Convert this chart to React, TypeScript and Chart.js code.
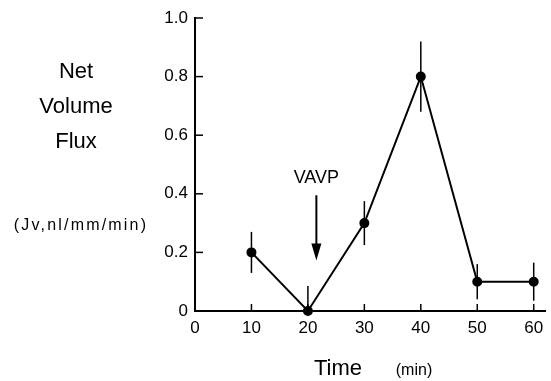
import React, { useEffect, useRef } from "react";
import { Chart, registerables } from "chart.js";

Chart.register(...registerables);

const times = [10, 20, 30, 40, 50, 60];
const flux = [0.2, 0.0, 0.3, 0.8, 0.1, 0.1];
const fluxErr = [0.07, 0.085, 0.075, 0.12, 0.06, 0.065];
const xTicks = [0, 10, 20, 30, 40, 50, 60];
const yTicks = [0, 0.2, 0.4, 0.6, 0.8, 1.0];
const yTitleLines = ["Net", "Volume", "Flux"];
const yUnits = "(Jv,nl/mm/min)";
const xTitle = "Time";
const xUnits = "(min)";
const annotationLabel = "VAVP";
const annotationX = 21.5;
const annotationTextY = 0.455;
const annotationArrowTop = 0.395;
const annotationArrowTip = 0.172;

const FONT = '"Liberation Sans", Arial, Helvetica, sans-serif';

const extrasPlugin = {
  id: "extras",
  afterDatasetsDraw(chart: any) {
    const ctx = chart.ctx;
    const xs = chart.scales.x;
    const ys = chart.scales.y;
    ctx.save();
    ctx.strokeStyle = "#000";
    ctx.lineWidth = 1.5;
    // error bars
    times.forEach((t, i) => {
      const px = xs.getPixelForValue(t);
      const top = ys.getPixelForValue(flux[i] + fluxErr[i]);
      const bot = ys.getPixelForValue(Math.max(0, flux[i] - fluxErr[i]));
      ctx.beginPath();
      ctx.moveTo(px, top);
      ctx.lineTo(px, bot);
      ctx.stroke();
    });
    // inward x ticks
    const base = ys.getPixelForValue(0);
    xTicks.forEach((t) => {
      if (t === 0) return;
      const px = xs.getPixelForValue(t);
      ctx.beginPath();
      ctx.moveTo(px, base);
      ctx.lineTo(px, base - 7);
      ctx.stroke();
    });
    // inward y ticks
    const left = xs.getPixelForValue(0);
    yTicks.forEach((v) => {
      if (v === 0) return;
      const py = ys.getPixelForValue(v);
      ctx.beginPath();
      ctx.moveTo(left, py);
      ctx.lineTo(left + 8, py);
      ctx.stroke();
    });
    ctx.restore();
  },
  afterDraw(chart: any) {
    const ctx = chart.ctx;
    const xs = chart.scales.x;
    const ys = chart.scales.y;
    ctx.save();
    ctx.fillStyle = "#000";
    ctx.strokeStyle = "#000";
    ctx.textAlign = "center";
    ctx.textBaseline = "middle";
    // left title
    ctx.font = `22px ${FONT}`;
    const ly = [72, 107, 142];
    yTitleLines.forEach((s, i) => ctx.fillText(s, 76, ly[i]));
    ctx.font = `16px ${FONT}`;
    (ctx as any).letterSpacing = "2.2px";
    ctx.fillText(yUnits, 81, 226);
    (ctx as any).letterSpacing = "0px";
    // x title
    ctx.font = `22px ${FONT}`;
    ctx.fillText(xTitle, 338, 369);
    ctx.font = `16px ${FONT}`;
    ctx.fillText(xUnits, 414, 371);
    // annotation
    const ax = xs.getPixelForValue(annotationX);
    ctx.font = `18px ${FONT}`;
    ctx.fillText(annotationLabel, ax, ys.getPixelForValue(annotationTextY));
    const aTop = ys.getPixelForValue(annotationArrowTop);
    const aTip = ys.getPixelForValue(annotationArrowTip);
    ctx.lineWidth = 2;
    ctx.beginPath();
    ctx.moveTo(ax, aTop);
    ctx.lineTo(ax, aTip - 12);
    ctx.stroke();
    ctx.beginPath();
    ctx.moveTo(ax - 5, aTip - 17);
    ctx.lineTo(ax + 5, aTip - 17);
    ctx.lineTo(ax, aTip);
    ctx.closePath();
    ctx.fill();
    ctx.restore();
  },
};

export default function App() {
  const ref = useRef<HTMLCanvasElement>(null);
  useEffect(() => {
    if (!ref.current) return;
    const chart = new Chart(ref.current, {
      type: "line",
      data: {
        datasets: [
          {
            data: times.map((t, i) => ({ x: t, y: flux[i] })),
            borderColor: "#000",
            backgroundColor: "#000",
            borderWidth: 2,
            pointRadius: 4,
            pointBackgroundColor: "#000",
            pointBorderColor: "#000",
            tension: 0,
            clip: false as any,
          },
        ],
      },
      options: {
        animation: false,
        responsive: false,
        maintainAspectRatio: false,
        layout: { padding: { left: 150, top: 18, right: 4, bottom: 0 } },
        plugins: {
          legend: { display: false },
          tooltip: { enabled: false },
        },
        scales: {
          x: {
            type: "linear",
            min: 0,
            max: 62,
            afterBuildTicks: (s: any) => {
              s.ticks = xTicks.map((v) => ({ value: v }));
            },
            afterFit: (s: any) => {
              s.height = 70;
            },
            grid: { display: false, drawTicks: false },
            border: { display: true, color: "#000", width: 2 },
            ticks: {
              color: "#000",
              font: { family: FONT, size: 17 },
              padding: 7,
              maxRotation: 0,
              autoSkip: false,
            },
          },
          y: {
            type: "linear",
            min: 0,
            max: 1,
            afterBuildTicks: (s: any) => {
              s.ticks = yTicks.map((v) => ({ value: v }));
            },
            afterFit: (s: any) => {
              s.width = 45;
            },
            grid: { display: false, drawTicks: false },
            border: { display: true, color: "#000", width: 2 },
            ticks: {
              color: "#000",
              font: { family: FONT, size: 17 },
              padding: 7,
              callback: (v: any) => (v === 0 ? "0" : Number(v).toFixed(1)),
            },
          },
        },
      },
      plugins: [extrasPlugin],
    });
    return () => chart.destroy();
  }, []);
  return (
    <div style={{ position: "fixed", left: 0, top: 0, width: 551, height: 381, background: "#fff" }}>
      <canvas ref={ref} width={551} height={381} />
    </div>
  );
}
